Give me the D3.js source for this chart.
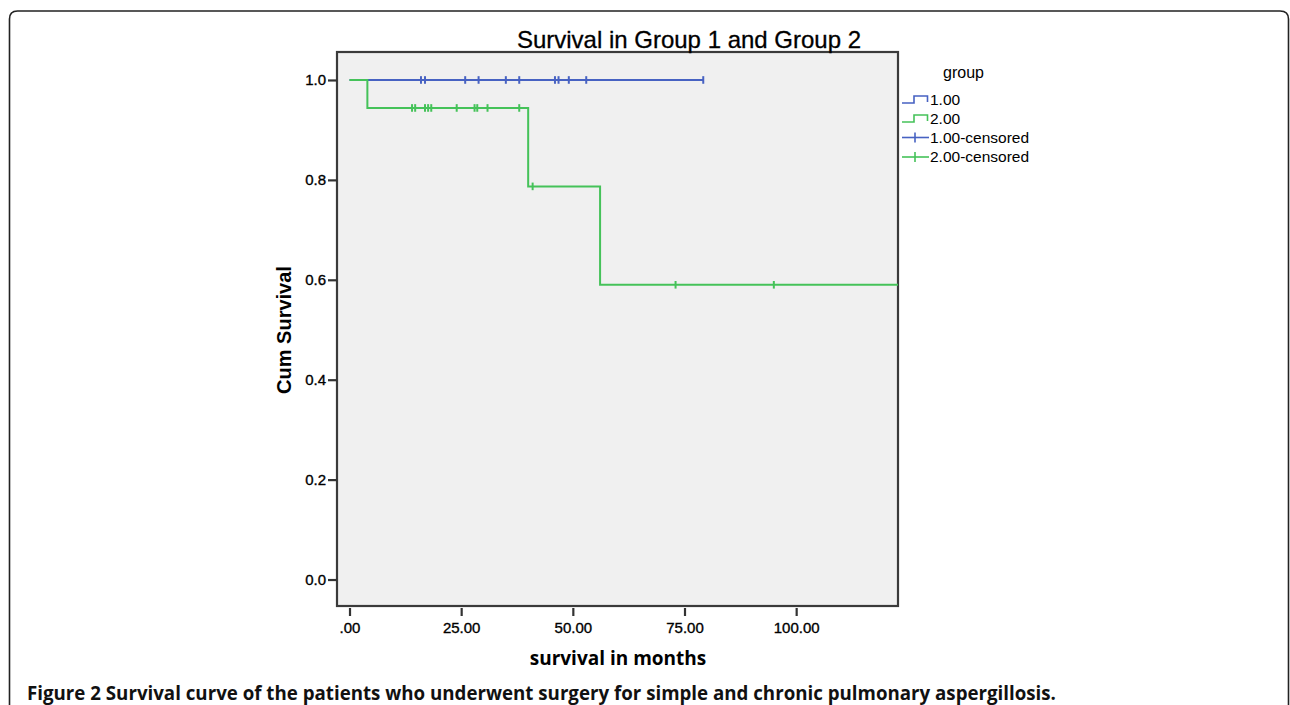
<!DOCTYPE html>
<html>
<head>
<meta charset="utf-8">
<script src="https://cdn.jsdelivr.net/npm/d3@7"></script>
<style>
  body { margin: 0; background: #fff; }
  svg { display: block; }
</style>
</head>
<body>
<div id="chart"></div>
<script>
var svgWidth = 1290;
var svgHeight = 705;

// Kaplan-Meier curves
// group 1.00 - no events, only censored cases
var g1StepTimes = [0];
var g1StepSurv = [1.0];
var g1EndTime = 79.2;
var g1Censored = [16.0, 16.9, 25.9, 28.9, 35.0, 38.0, 46.0, 46.8, 49.1, 53.0, 79.2];

// group 2.00
var g2StepTimes = [0, 4.0, 40.0, 56.1];
var g2StepSurv = [1.0, 0.944, 0.787, 0.590];
var g2EndTime = 122.8;
var g2Censored = [14.0, 14.7, 16.9, 17.6, 18.3, 24.0, 28.0, 28.6, 30.9, 38.0, 41.0, 73.0, 95.0];

var xTicks = [0, 25, 50, 75, 100];
var yTicks = [0, 0.2, 0.4, 0.6, 0.8, 1.0];
var legendLabels = ["1.00", "2.00", "1.00-censored", "2.00-censored"];

var blue = "#4762c2";
var green = "#45c259";
var font = "'Liberation Sans', Arial, sans-serif";

var svg = d3.select("#chart")
  .append("svg")
  .attr("width", svgWidth)
  .attr("height", svgHeight);

// figure box (rounded top corners, runs off the bottom)
svg.append("path")
  .attr("d", "M9.5,705 L9.5,19 Q9.5,11 17.5,11 L1280,11 Q1288.5,11 1288.5,19 L1288.5,705")
  .attr("fill", "none")
  .attr("stroke", "#222")
  .attr("stroke-width", 1.6);

// scales
var x = d3.scaleLinear().domain([-2.8, 122.8]).range([337, 898]);
var y = d3.scaleLinear().domain([-0.053, 1.056]).range([606, 52]);

// plot frame
svg.append("rect")
  .attr("x", x(-2.8))
  .attr("y", y(1.056))
  .attr("width", x(122.8) - x(-2.8))
  .attr("height", y(-0.053) - y(1.056))
  .attr("fill", "#f0f0f0")
  .attr("stroke", "#3a3a3a")
  .attr("stroke-width", 2.2);

// axes
var xAxis = svg.append("g")
  .attr("transform", "translate(0, 608)")
  .call(d3.axisBottom(x)
    .tickValues(xTicks)
    .tickSize(8)
    .tickSizeOuter(0)
    .tickFormat(function(d) { return d === 0 ? ".00" : d3.format(".2f")(d); }));
xAxis.select(".domain").remove();

var yAxis = svg.append("g")
  .attr("transform", "translate(" + x(-2.8) + ", 0)")
  .call(d3.axisLeft(y)
    .tickValues(yTicks)
    .tickSize(9)
    .tickPadding(2)
    .tickFormat(d3.format(".1f")));
yAxis.select(".domain").remove();

svg.selectAll(".tick line").attr("stroke", "#333").attr("stroke-width", 2.2);
svg.selectAll(".tick text")
  .attr("fill", "#000")
  .attr("stroke", "#000")
  .attr("stroke-width", 0.35)
  .style("font-family", font)
  .style("font-size", "15px");
xAxis.selectAll(".tick text").attr("dy", "0.95em");

// step curves
function stepPoints(times, surv, endTime) {
  var pts = times.map(function(t, i) { return [t, surv[i]]; });
  pts.push([endTime, surv[surv.length - 1]]);
  return pts;
}

function survAt(times, surv, t) {
  var s = surv[0];
  times.forEach(function(tt, i) { if (tt <= t) s = surv[i]; });
  return s;
}

var stepLine = d3.line()
  .x(function(d) { return x(d[0]); })
  .y(function(d) { return y(d[1]); })
  .curve(d3.curveStepAfter);

var series = [
  { times: g1StepTimes, surv: g1StepSurv, end: g1EndTime, cens: g1Censored, color: blue },
  { times: g2StepTimes, surv: g2StepSurv, end: g2EndTime, cens: g2Censored, color: green }
];

series.forEach(function(s) {
  svg.append("path")
    .datum(stepPoints(s.times, s.surv, s.end))
    .attr("d", stepLine)
    .attr("fill", "none")
    .attr("stroke", s.color)
    .attr("stroke-width", 2);

  svg.append("g").selectAll("line")
    .data(s.cens)
    .enter()
    .append("line")
    .attr("x1", function(d) { return x(d); })
    .attr("x2", function(d) { return x(d); })
    .attr("y1", function(d) { return y(survAt(s.times, s.surv, d)) - 3.8; })
    .attr("y2", function(d) { return y(survAt(s.times, s.surv, d)) + 3.8; })
    .attr("stroke", s.color)
    .attr("stroke-width", 2);
});

// titles
svg.append("text")
  .attr("x", 689)
  .attr("y", 48)
  .attr("text-anchor", "middle")
  .style("font-family", font)
  .style("font-size", "24px")
  .attr("fill", "#000")
  .attr("stroke", "#000")
  .attr("stroke-width", 0.3)
  .text("Survival in Group 1 and Group 2");

svg.append("text")
  .attr("transform", "translate(291, 330) rotate(-90)")
  .attr("text-anchor", "middle")
  .style("font-family", font)
  .style("font-size", "20px")
  .style("font-weight", "bold")
  .attr("fill", "#000")
  .text("Cum Survival");

svg.append("text")
  .attr("x", 618)
  .attr("y", 665)
  .attr("text-anchor", "middle")
  .style("font-family", "'Open Sans', sans-serif")
  .style("font-size", "19px")
  .style("font-weight", "bold")
  .attr("fill", "#000")
  .text("survival in months");

// legend
var legend = svg.append("g").attr("transform", "translate(902, 0)");

legend.append("text")
  .attr("x", 41)
  .attr("y", 78)
  .style("font-family", font)
  .style("font-size", "16px")
  .attr("fill", "#000")
  .text("group");

var legendColors = [blue, green, blue, green];
var legendBase = [105, 124, 142.5, 162];

legendLabels.forEach(function(label, i) {
  var cy = legendBase[i] - 5;
  if (i < 2) {
    legend.append("path")
      .attr("d", "M0," + (cy + 3) + " H12 V" + (cy - 4) + " H25.5 V" + (cy + 2))
      .attr("fill", "none")
      .attr("stroke", legendColors[i])
      .attr("stroke-width", 1.6);
  } else {
    legend.append("line")
      .attr("x1", 0).attr("x2", 27)
      .attr("y1", cy).attr("y2", cy)
      .attr("stroke", legendColors[i])
      .attr("stroke-width", 1.6);
    legend.append("line")
      .attr("x1", 13).attr("x2", 13)
      .attr("y1", cy - 5).attr("y2", cy + 5)
      .attr("stroke", legendColors[i])
      .attr("stroke-width", 1.6);
  }
  legend.append("text")
    .attr("x", 28)
    .attr("y", legendBase[i])
    .style("font-family", font)
    .style("font-size", "15.5px")
    .attr("fill", "#000")
    .text(label);
});

// caption
var caption = svg.append("text")
  .attr("x", 27)
  .attr("y", 700)
  .style("font-family", "'Open Sans', sans-serif")
  .style("font-size", "17px")
  .style("font-weight", "bold")
  .attr("fill", "#111");
caption.append("tspan").text("Figure 2");
caption.append("tspan").text(" Survival curve of the patients who underwent surgery for simple and chronic pulmonary aspergillosis.");

// fit the caption to its width in the figure
var capLen = caption.node().getComputedTextLength();
caption.style("font-size", (17 * 1030 / capLen).toFixed(2) + "px");
</script>
</body>
</html>
